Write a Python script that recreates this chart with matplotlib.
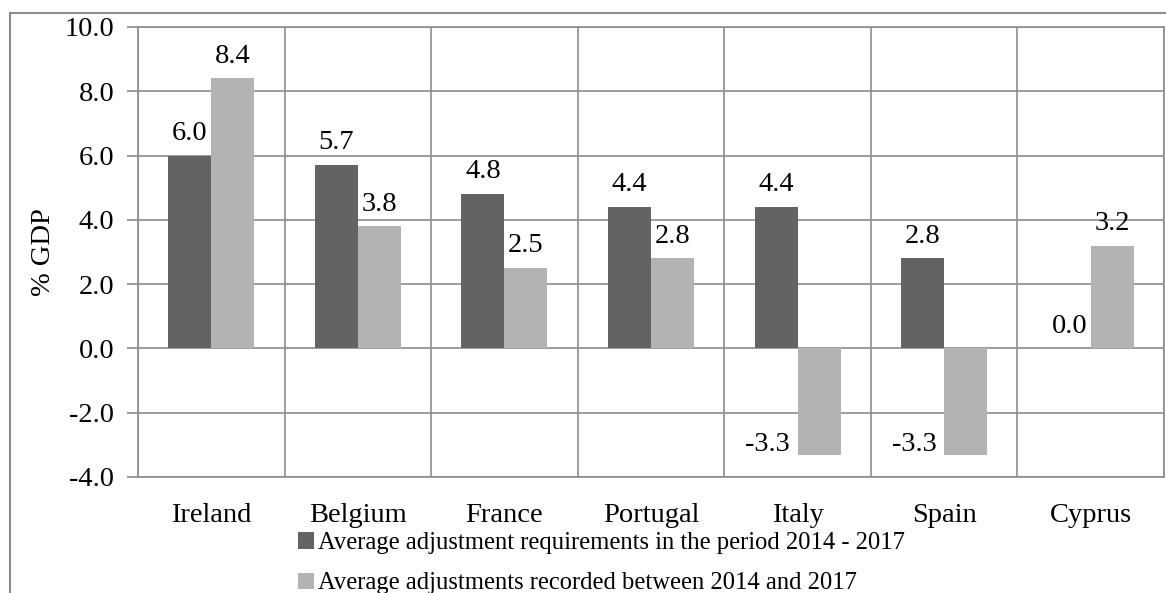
import matplotlib
matplotlib.use("Agg")
import matplotlib.pyplot as plt
from matplotlib.patches import Rectangle
import numpy as np

categories = ["Ireland", "Belgium", "France", "Portugal", "Italy", "Spain", "Cyprus"]
required = [6.0, 5.7, 4.8, 4.4, 4.4, 2.8, 0.0]
recorded = [8.4, 3.8, 2.5, 2.8, -3.3, -3.3, 3.2]
series_names = ["Average adjustment requirements in the period 2014 - 2017",
                "Average adjustments recorded between 2014 and 2017"]
yticks = [-4.0, -2.0, 0.0, 2.0, 4.0, 6.0, 8.0, 10.0]

plt.rcParams['font.family'] = ['Liberation Serif', 'DejaVu Serif']
FS = 20.5
LFS = 17.7
W, H = 1166, 593
fig = plt.figure(figsize=(W/100, H/100), dpi=100)

# outer border (chart area frame)
fig.patches.append(Rectangle((10/W, -0.05), 1.2, (H-13)/H + 0.05, transform=fig.transFigure,
                             fill=False, edgecolor='#8c8c8c', linewidth=1.5))

ax = fig.add_axes([138/W, 1-477/H, 1026/W, 450/H])
dark = '#636363'
light = '#b3b3b3'
x = np.arange(len(categories))
w = 0.293
b1 = ax.bar(x - w/2, required, w, color=dark, label=series_names[0], zorder=3)
b2 = ax.bar(x + w/2, recorded, w, color=light, label=series_names[1], zorder=3)

ax.set_xlim(-0.5, len(categories) - 0.5)
ax.set_ylim(-4, 10)
ax.set_yticks(yticks)
ax.set_yticklabels([f"{v:.1f}" for v in yticks], fontsize=FS)
ax.set_xticks(x)
ax.set_xticklabels(categories, fontsize=FS)
ax.set_xticks(np.arange(len(categories) + 1) - 0.5, minor=True)
ax.grid(axis='y', which='major', color='#8c8c8c', linewidth=1.2, zorder=0)
ax.grid(axis='x', which='minor', color='#8c8c8c', linewidth=1.2, zorder=0)
ax.tick_params(axis='x', which='both', length=0, pad=19)
ax.tick_params(axis='y', length=8, width=1.2, color='#8c8c8c', pad=9)
for s in ax.spines.values():
    s.set_color('#8c8c8c')
    s.set_linewidth(1.2)
ax.set_ylabel("% GDP", fontsize=FS, labelpad=6)

def label(bars, vals):
    for rect, v in zip(bars, vals):
        cx = rect.get_x() + rect.get_width()/2
        if v >= 0:
            ax.annotate(f"{v:.1f}", (cx, v), xytext=(0, 16), textcoords='offset points',
                        ha='center', va='center', fontsize=FS)
        else:
            # Excel places these to the left, near bar end
            ax.annotate(f"{v:.1f}", (cx - rect.get_width(), v), xytext=(-6, 7), textcoords='offset points',
                        ha='center', va='center', fontsize=FS)

label(b1, required)
label(b2, recorded)

leg = fig.legend(loc='upper left', bbox_to_anchor=(298/W, 1-532/H), frameon=False,
                 fontsize=LFS, handlelength=0.65, handleheight=0.65, handletextpad=0.15,
                 labelspacing=0.75, borderpad=0, borderaxespad=0)

fig.savefig("out.png", dpi=100)
